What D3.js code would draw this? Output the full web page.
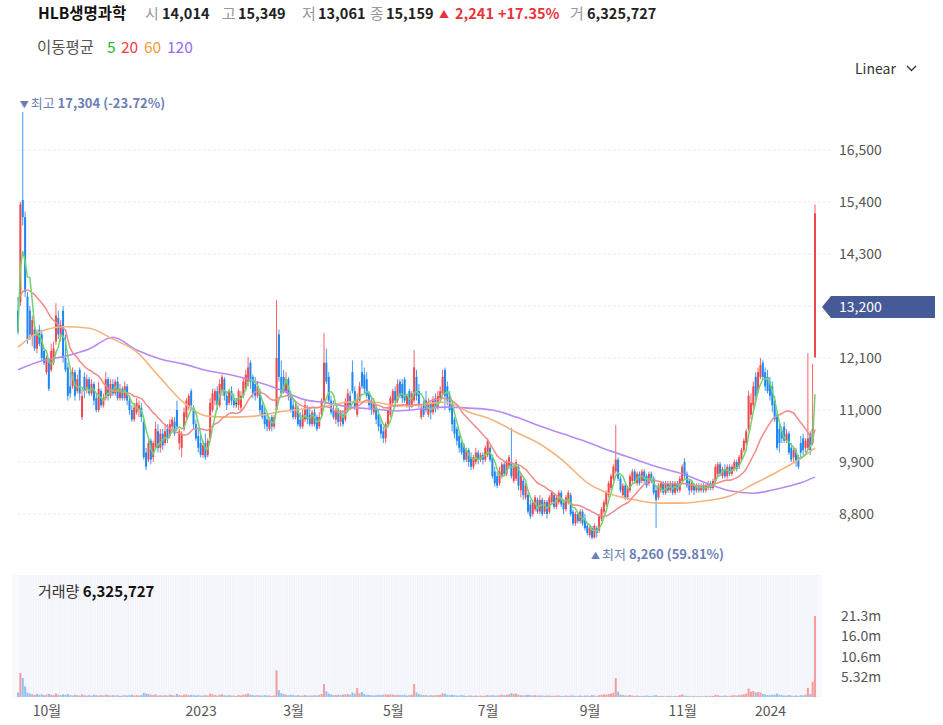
<!DOCTYPE html>
<html><head><meta charset="utf-8">
<script src="https://cdn.jsdelivr.net/npm/d3@7"></script>
<style>
body{margin:0;background:#fff;}
svg{display:block;font-family:"Noto Sans CJK KR","Noto Sans",sans-serif;}
</style>
</head><body>
<svg id="c" width="943" height="725"></svg>
<script>
// ---------- DATA ----------
const open=[13100,13280,15440,15080,13400,13100,12550,12700,12300,12700,
12600,12250,11800,12050,11850,12000,12450,12950,12550,13100,
12100,11900,11500,11500,11800,11400,11850,10850,11700,11450,
11650,11350,11550,11250,11000,11400,11100,11250,11650,11300,
11550,11350,11600,11250,11450,11250,11500,11200,11000,10800,
10950,11000,11050,10750,10100,9950,10350,10000,10200,10550,
10200,10500,10300,10600,10450,10650,10750,11000,10300,10200,
10600,10850,11050,11400,11050,10700,10450,10300,10050,10300,
10050,10400,11000,11200,11400,11100,11400,11650,11300,11150,
11400,11250,11150,11100,11050,11300,11450,11600,12000,11700,
11550,11300,11400,11100,10950,10800,10600,10850,10650,11000,
12600,11700,11700,11400,11650,11300,11100,10850,11050,10800,
10650,10800,11050,10900,10700,10950,10850,10650,10900,11200,
12000,11700,11200,11000,10800,11000,10750,10900,10800,11000,
11300,11800,11400,10900,11200,11800,11750,11650,11350,11200,
10950,11050,10900,10700,10550,10400,10700,10900,11150,11400,
11200,11600,11550,11650,11100,11400,11100,11200,11700,11400,
10850,11100,11200,10900,11150,10950,11250,11050,11250,11350,
11850,11500,11300,11100,10800,10600,10450,10300,10250,9950,
10150,10000,9800,9900,10100,9950,10050,9950,10050,10200,
10000,9700,9600,9450,9600,9850,9650,9800,9900,9500,
9550,9800,9300,9500,9150,9200,9000,8800,8900,9100,
8850,9100,8850,9050,8850,9050,9200,8950,9050,9250,
9050,8900,9050,9200,8850,8600,8800,8650,8850,8700,
8550,8350,8500,8300,8500,8450,8700,8850,9000,9200,
9350,9550,9700,9950,9550,9200,9400,9150,9300,9500,
9700,9450,9650,9500,9700,9600,9450,9650,9550,9300,
9150,9300,9450,9250,9450,9300,9450,9250,9450,9300,
9500,9900,9650,9500,9300,9400,9300,9400,9300,9400,
9300,9350,9450,9350,9500,9650,9850,9600,9750,9600,
9800,9650,9750,9900,9800,9950,10150,10300,10600,10900,
11100,11700,11400,11700,12000,11800,11700,11600,11500,11200,
10900,10600,10550,10650,10350,10500,10200,10000,10150,10000,
10300,10400,10200,10200,10500,10300,12120];
const high=[13390,15400,17304,15200,13500,13200,13000,12750,12700,12800,
12700,12300,12150,12100,12400,12450,13260,13100,12900,13200,
12600,12000,11800,11900,11850,11750,11900,11450,11800,11750,
11700,11650,11600,11350,11600,11450,11350,11800,11700,11650,
11650,11650,11700,11550,11500,11600,11550,11300,11100,11150,
11250,11200,11150,10800,10200,10400,10400,10350,10750,10700,
10600,10600,10700,10700,10800,10850,10850,11200,10600,10550,
11050,11250,11350,11450,11100,10800,10600,10500,10350,10500,
10400,11250,11450,11450,11500,11650,11750,11700,11400,11450,
11500,11350,11250,11450,11400,11700,11850,12120,12050,11750,
11700,11600,11450,11200,11050,10900,10850,10900,10900,13330,
12700,12050,11850,11800,11700,11400,11200,11150,11100,10950,
11000,11200,11100,11050,11000,11050,10900,10950,11250,12630,
12300,11800,11300,11200,11050,11050,11000,11000,11250,11450,
11400,12050,11500,11350,11600,12050,11900,11800,11400,11300,
11250,11100,11000,10800,10650,10750,11050,11300,11450,11500,
11650,11650,11650,11700,11350,11450,11400,12270,11850,11550,
11100,11200,11400,11250,11200,11300,11350,11400,11500,11850,
11900,11600,11400,11150,10850,10650,10550,10400,10300,10200,
10200,10100,10050,10200,10150,10100,10100,10250,10400,10250,
10050,9800,9700,9800,9900,9900,9950,10050,10620,9850,
9950,9850,9650,9550,9450,9250,9100,9100,9200,9150,
9200,9150,9100,9100,9200,9300,9250,9200,9300,9300,
9100,9200,9300,9250,8900,8850,8850,8900,8900,8800,
8600,8550,8550,8600,8550,8800,8950,9100,9300,9500,
9650,9850,10680,10000,9600,9450,9450,9400,9650,9750,
9750,9700,9700,9750,9750,9650,9700,9700,9600,9400,
9450,9500,9500,9500,9500,9500,9500,9500,9500,9600,
9850,9980,9700,9550,9500,9450,9450,9450,9450,9450,
9450,9500,9500,9550,9850,9900,9900,9800,9850,9850,
9850,9850,9950,9950,10050,10200,10400,10600,11400,11350,
11600,11800,11900,12100,12050,11900,11850,11700,11600,11300,
10950,10700,10650,10750,10600,10550,10300,10200,10200,10050,
10450,10500,10400,12200,10550,11980,15349];
const low=[12600,13200,14900,13390,12400,12480,12350,12250,12200,12350,
12050,11950,11750,11400,11800,11950,12380,12500,12450,12000,
11800,11200,11250,11450,11200,11350,11200,10790,11250,11350,
11300,11300,11100,10950,10950,11050,11050,11200,11200,11250,
11300,11300,11200,11200,11200,11200,11100,10900,10750,10750,
10900,10850,10750,9950,9730,9900,9850,9900,10150,10100,
10100,10150,10250,10300,10400,10550,10450,10550,10150,10000,
10550,10800,11000,11000,10600,10350,10100,10000,9990,9950,
10000,10350,10950,11100,11000,11050,11300,11200,11000,11100,
11100,11050,11050,11000,10950,11250,11400,11500,11450,11250,
11200,11250,10900,10800,10600,10550,10550,10550,10600,10950,
11600,11300,11350,11350,11200,10950,10800,10800,10650,10600,
10600,10750,10700,10650,10650,10650,10550,10600,10850,11150,
11550,11150,10900,10800,10700,10650,10650,10650,10750,10950,
11000,11350,11000,10850,11150,11450,11350,11250,11000,10900,
10900,10700,10550,10400,10300,10300,10650,10850,11100,11100,
11150,11250,11150,11150,11050,11000,11050,11150,11200,11050,
10800,10850,10950,10850,10800,10900,10950,11000,11200,11300,
11000,11100,10950,10550,10400,10250,10100,10050,9900,9900,
9800,9730,9750,9850,9850,9900,9850,9900,10000,9900,
9550,9380,9350,9400,9550,9600,9600,9750,9550,9450,
9500,9300,9150,9100,9100,8800,8700,8750,8850,8800,
8800,8750,8800,8700,8800,9000,8900,8900,9000,8950,
8800,8850,9000,8750,8550,8550,8600,8600,8550,8450,
8350,8300,8260,8280,8300,8400,8650,8800,8950,9150,
9300,9500,9650,9500,9250,9150,9100,9100,9250,9450,
9450,9400,9400,9450,9450,9350,9400,9450,9200,8500,
9100,9250,9200,9200,9250,9250,9200,9200,9250,9250,
9450,9550,9350,9200,9250,9200,9250,9250,9250,9250,
9250,9300,9300,9300,9450,9600,9600,9550,9550,9550,
9600,9600,9700,9700,9750,9900,10100,10250,10550,10800,
11000,11200,11350,11650,11650,11400,11350,11200,10950,10750,
10150,10100,10300,10300,10300,10050,9900,9900,9800,9750,
10000,10050,10100,10150,10050,10250,12100];
const close=[12650,15350,15080,13500,12500,12600,12900,12300,12650,12400,
12100,12000,12100,11450,12250,12300,13000,12600,12800,12100,
11850,11300,11350,11800,11300,11650,11350,11300,11400,11650,
11350,11550,11200,11000,11450,11100,11250,11650,11300,11550,
11350,11600,11250,11450,11250,11500,11200,11000,10800,11050,
11150,11100,10850,10000,9800,10300,9950,10300,10600,10200,
10500,10250,10550,10400,10700,10800,10500,10650,10550,10500,
10950,11200,11300,11100,10700,10400,10200,10050,10250,10000,
10350,11150,11350,11400,11100,11550,11700,11300,11100,11400,
11200,11100,11150,11400,11300,11600,11750,11900,11600,11350,
11300,11500,11000,10850,10700,10650,10800,10650,10850,12100,
11700,11350,11400,11650,11300,11000,10850,11050,10700,10650,
10900,11100,10800,10700,10950,10700,10600,10850,11200,12000,
11600,11200,10950,10850,11000,10750,10950,10700,11150,11350,
11100,11400,11050,11200,11500,11500,11450,11300,11100,11000,
11150,10800,10650,10500,10400,10700,11000,11250,11400,11200,
11550,11300,11250,11200,11300,11100,11350,11900,11300,11100,
11050,10900,11000,11150,10950,11200,11050,11300,11400,11700,
11300,11200,11000,10700,10500,10350,10200,10100,9950,10150,
9900,9800,10000,10100,9950,10050,9950,10200,10350,9950,
9600,9450,9400,9700,9850,9650,9900,10000,9600,9800,
9900,9400,9600,9200,9400,8850,8750,9050,9150,8850,
9100,8800,9050,8800,9150,9250,8950,9150,9250,9000,
8900,9150,9250,8800,8600,8800,8650,8850,8600,8500,
8400,8500,8300,8550,8400,8750,8900,9050,9250,9450,
9600,9800,9950,9550,9300,9400,9150,9350,9600,9700,
9500,9650,9450,9700,9500,9400,9650,9500,9250,9100,
9400,9450,9250,9450,9300,9450,9250,9450,9300,9550,
9800,9600,9400,9300,9450,9300,9400,9300,9400,9300,
9400,9450,9350,9500,9800,9850,9650,9750,9600,9800,
9650,9800,9900,9750,10000,10150,10350,10550,11300,11150,
11500,11300,11800,11950,11700,11500,11400,11300,11100,10800,
10200,10300,10400,10350,10500,10100,9950,10150,9900,9800,
10100,10150,10350,10400,10150,10600,15159];
// volume in millions of shares
const volume=[1.2,6.3,5.0,2.8,1.2,0.9,0.7,0.6,0.8,0.6,0.7,0.5,0.6,0.8,0.6,0.5,0.9,0.6,0.5,0.7,
0.6,0.8,0.5,0.4,0.6,0.5,0.4,0.7,0.5,0.4,0.5,0.4,0.6,0.5,0.4,0.5,0.4,0.6,0.5,0.4,
0.5,0.4,0.5,0.3,0.4,0.5,0.4,0.5,0.6,0.4,0.5,0.4,0.5,1.1,0.9,0.8,0.6,0.5,0.7,0.4,
0.5,0.4,0.5,0.4,0.6,0.5,0.4,0.8,0.5,0.4,0.6,0.7,0.5,0.6,0.5,0.4,0.5,0.4,0.4,0.5,
0.4,0.9,0.7,0.5,0.4,0.6,0.7,0.5,0.4,0.5,0.4,0.4,0.3,0.5,0.4,0.6,0.7,0.9,0.6,0.5,
0.4,0.5,0.4,0.4,0.5,0.4,0.4,0.3,0.4,7.0,1.8,1.0,0.8,0.6,0.5,0.6,0.5,0.4,0.5,0.4,
0.4,0.5,0.4,0.4,0.4,0.5,0.4,0.5,0.8,3.4,1.5,0.9,0.7,0.5,0.5,0.6,0.5,0.6,0.7,0.8,
0.6,1.2,0.9,2.4,1.0,1.3,0.8,0.6,0.5,0.5,0.4,0.5,0.6,0.5,0.6,0.7,0.6,0.7,0.6,0.5,
0.6,0.5,0.5,0.6,0.4,0.5,0.6,3.4,1.2,0.8,0.6,0.5,0.5,0.4,0.5,0.4,0.5,0.5,0.6,1.0,
0.9,0.6,0.5,0.6,0.5,0.4,0.4,0.5,0.4,0.3,0.4,0.4,0.3,0.4,0.3,0.4,0.3,0.4,0.5,0.4,
0.5,0.4,0.4,0.5,0.6,0.5,0.6,0.7,1.0,0.8,0.9,0.6,0.5,0.4,0.5,0.6,0.5,0.4,0.5,0.4,
0.4,0.4,0.3,0.4,0.4,0.3,0.3,0.4,0.4,0.3,0.3,0.4,0.3,0.4,0.4,0.3,0.3,0.4,0.3,0.4,
0.4,0.3,0.5,0.4,0.3,0.5,0.6,0.7,0.6,0.8,0.9,1.1,5.0,1.4,0.6,0.5,0.4,0.4,0.5,0.4,
0.3,0.4,0.3,0.3,0.3,0.4,0.3,0.3,0.4,0.5,0.3,0.3,0.3,0.2,0.3,0.3,0.2,0.3,0.3,0.5,
0.7,0.4,0.3,0.3,0.2,0.3,0.2,0.3,0.2,0.2,0.3,0.2,0.3,0.3,0.6,0.5,0.3,0.3,0.4,0.3,
0.3,0.4,0.5,0.4,0.5,0.6,0.7,0.9,2.2,1.4,1.6,1.2,1.3,1.2,0.8,0.7,0.5,0.5,0.6,0.6,
0.9,0.6,0.5,0.4,0.4,0.5,0.4,0.3,0.4,0.3,0.5,0.4,0.6,2.4,0.8,4.0,21.3];
// MA20 values for the first days (window not yet full)
const ma20Start=[13330,13420,13500,13540,13540,13520,13480,13440,13380,13320,13270,13200,13120,13030,12950,12900,12850,12800,12760];
// long moving averages at these candle positions
const maIdx=[0,10,20,30,40,50,60,70,80,90,100,110,120,130,140,150,160,170,180,190,200,210,220,230,240,250,260,270,280,290,300,310,320,330,336];
const ma60=[12330,12670,12760,12730,12500,12230,11680,11150,10870,10850,10870,10960,11020,11080,11170,11170,11080,11110,11170,10960,10790,10530,10280,9920,9460,9220,9100,9030,9030,9080,9180,9430,9690,9980,10200];
const ma120=[11850,12040,12140,12290,12540,12270,12080,11970,11830,11740,11610,11440,11230,11150,11060,11020,10980,11020,11060,11040,11000,10850,10660,10490,10320,10130,9960,9790,9650,9460,9290,9240,9330,9460,9580];
const yTicks=[8800,9900,11000,12100,13200,14300,15400,16500];
const volTicks=[5.32,10.6,16.0,21.3];
const volTickLabels=["5.32m","10.6m","16.0m","21.3m"];
const xTickIdx=[12,77,116,158,198,241,280,317];
const xTickLabels=["10월","2023","3월","5월","7월","9월","11월","2024"];

// ---------- CHART ----------
const svg=d3.select("#c");
const N=close.length;
const x=d3.scaleLinear().domain([0,N-1]).range([18,815]);
const y=d3.scaleLinear().domain([8800,16500]).range([514,150]);
const yv=d3.scaleLinear().domain([0,21.3]).range([697,616]);
const UP="#f0474c", DOWN="#1f87ef", FLAT="#333";
const col=i=>close[i]>open[i]?UP:(close[i]<open[i]?DOWN:FLAT);

// header
const hdr=[[38,"HLB생명과학",700,"#111",15.5],[145,"시",400,"#999",15],[162,"14,014",700,"#222",14.5],
[222,"고",400,"#999",15],[238,"15,349",700,"#222",14.5],[302,"저",400,"#999",15],[318,"13,061",700,"#222",14.5],
[370,"종",400,"#999",15],[386,"15,159",700,"#222",14.5],[455,"2,241",700,"#e8333b",14.5],[498,"+17.35%",700,"#e8333b",14.5],
[570,"거",400,"#999",15],[587,"6,325,727",700,"#222",14.5]];
svg.append("g").selectAll("text").data(hdr).join("text")
 .attr("x",d=>d[0]).attr("y",19).attr("font-size",d=>d[4]).attr("font-weight",d=>d[2]).attr("fill",d=>d[3]).text(d=>d[1]);
svg.append("text").attr("x",439).attr("y",18).attr("font-size",10).attr("fill","#e8333b").text("▲");

// legend
const leg=[[37,"이동평균","#555"],[107,"5","#2db52d"],[121,"20","#f03c3c"],[144,"60","#f59a3c"],[167,"120","#9a68f2"]];
svg.append("g").selectAll("text").data(leg).join("text")
 .attr("x",d=>d[0]).attr("y",53).attr("font-size",15.5).attr("fill",d=>d[2]).text(d=>d[1]);

// Linear dropdown
svg.append("text").attr("x",855).attr("y",74).attr("font-size",14).attr("fill","#333").text("Linear");
svg.append("path").attr("d","M907,66 L911.5,70.5 L916,66").attr("fill","none").attr("stroke","#333").attr("stroke-width",1.3);

// grid
svg.append("g").selectAll("line").data(yTicks).join("line")
 .attr("x1",18).attr("x2",833).attr("y1",d=>y(d)).attr("y2",d=>y(d))
 .attr("stroke","#e8eaf4").attr("stroke-dasharray","3,2");

// y axis
const ya=svg.append("g").attr("transform","translate(833,0)")
 .call(d3.axisRight(y).tickValues(yTicks).tickFormat(d3.format(",")).tickSize(0).tickPadding(6));
ya.select(".domain").remove();
ya.selectAll("text").attr("font-size",14).attr("fill","#555").attr("font-family","'Noto Sans CJK KR','Noto Sans',sans-serif");

// candles
const cg=svg.append("g");
cg.selectAll("line").data(d3.range(N)).join("line")
 .attr("x1",i=>x(i)).attr("x2",i=>x(i)).attr("y1",i=>y(high[i])).attr("y2",i=>y(low[i]))
 .attr("stroke",col).attr("stroke-opacity",0.85).attr("stroke-width",1);
cg.selectAll("rect").data(d3.range(N)).join("rect")
 .attr("x",i=>x(i)-1).attr("width",2)
 .attr("y",i=>Math.min(y(open[i]),y(close[i])))
 .attr("height",i=>Math.max(1,Math.abs(y(open[i])-y(close[i]))))
 .attr("fill",col);

// moving averages
const ma5=close.map((c,i)=>d3.mean(close.slice(Math.max(0,i-4),i+1)));
const ma20=close.map((c,i)=>i<19?ma20Start[i]:d3.mean(close.slice(i-19,i+1)));
const lineIdx=d3.line().x((d,i)=>x(i)).y(d=>y(d));
const lineS=d3.line().x(d=>x(d[0])).y(d=>y(d[1])).curve(d3.curveMonotoneX);
svg.append("path").attr("d",lineS(d3.zip(maIdx,ma120))).attr("fill","none").attr("stroke","#b98af6").attr("stroke-width",1.6);
svg.append("path").attr("d",lineS(d3.zip(maIdx,ma60))).attr("fill","none").attr("stroke","#f8b37c").attr("stroke-width",1.6);
svg.append("path").attr("d",lineIdx(ma20)).attr("fill","none").attr("stroke","#f28a8a").attr("stroke-width",1.5);
svg.append("path").attr("d",lineIdx(ma5)).attr("fill","none").attr("stroke","#6fd46f").attr("stroke-width",1.5);

// max / min labels
const maxI=d3.maxIndex(high), minI=d3.minIndex(low);
const ann="#6b7eb6";
const mx=svg.append("text").attr("x",x(maxI)-3).attr("y",108).attr("font-size",13).attr("fill",ann);
mx.append("tspan").attr("font-size",9).text("▼ ");
mx.append("tspan").text("최고 ");
mx.append("tspan").attr("font-weight",700).text(d3.format(",")(high[maxI])+" (-23.72%)");
const mn=svg.append("text").attr("x",591).attr("y",559).attr("font-size",13).attr("fill",ann);
mn.append("tspan").attr("font-size",9).text("▲ ");
mn.append("tspan").text("최저 ");
mn.append("tspan").attr("font-weight",700).text(d3.format(",")(low[minI])+" (59.81%)");

// price tag
svg.append("path").attr("d","M822,307 L831,296 L935,296 L935,318 L831,318 Z").attr("fill","#455a97");
svg.append("text").attr("x",839).attr("y",312).attr("font-size",14).attr("fill","#fff").text("13,200");

// volume panel
svg.append("rect").attr("x",12).attr("y",575).attr("width",810).attr("height",122).attr("fill","#f8f9fd");
svg.append("g").selectAll("line").data(d3.range(N)).join("line")
 .attr("x1",i=>x(i)+1.2).attr("x2",i=>x(i)+1.2).attr("y1",575).attr("y2",697)
 .attr("stroke","#eceef8").attr("stroke-width",0.6);
svg.append("g").selectAll("rect").data(d3.range(N)).join("rect")
 .attr("x",i=>x(i)-1).attr("width",2)
 .attr("y",i=>yv(volume[i])).attr("height",i=>697-yv(volume[i]))
 .attr("fill",i=>close[i]>=open[i]?"#f59c9c":"#8fc2f4");
const vl=svg.append("text").attr("x",38).attr("y",597).attr("font-size",15).attr("fill","#333");
vl.append("tspan").text("거래량 ");
vl.append("tspan").attr("font-weight",700).attr("fill","#111").text("6,325,727");
const va=svg.append("g").attr("transform","translate(835,0)")
 .call(d3.axisRight(yv).tickValues(volTicks).tickFormat((d,i)=>volTickLabels[i]).tickSize(0).tickPadding(6));
va.select(".domain").remove();
va.selectAll("text").attr("font-size",14).attr("fill","#555").attr("font-family","'Noto Sans CJK KR','Noto Sans',sans-serif");

// x axis
const xa=svg.append("g").attr("transform","translate(0,700)")
 .call(d3.axisBottom(x).tickValues(xTickIdx).tickFormat((d,i)=>xTickLabels[i]).tickSize(0).tickPadding(6));
xa.select(".domain").remove();
xa.selectAll("text").attr("font-size",14).attr("fill","#555").attr("font-family","'Noto Sans CJK KR','Noto Sans',sans-serif");
</script>
</body></html>
